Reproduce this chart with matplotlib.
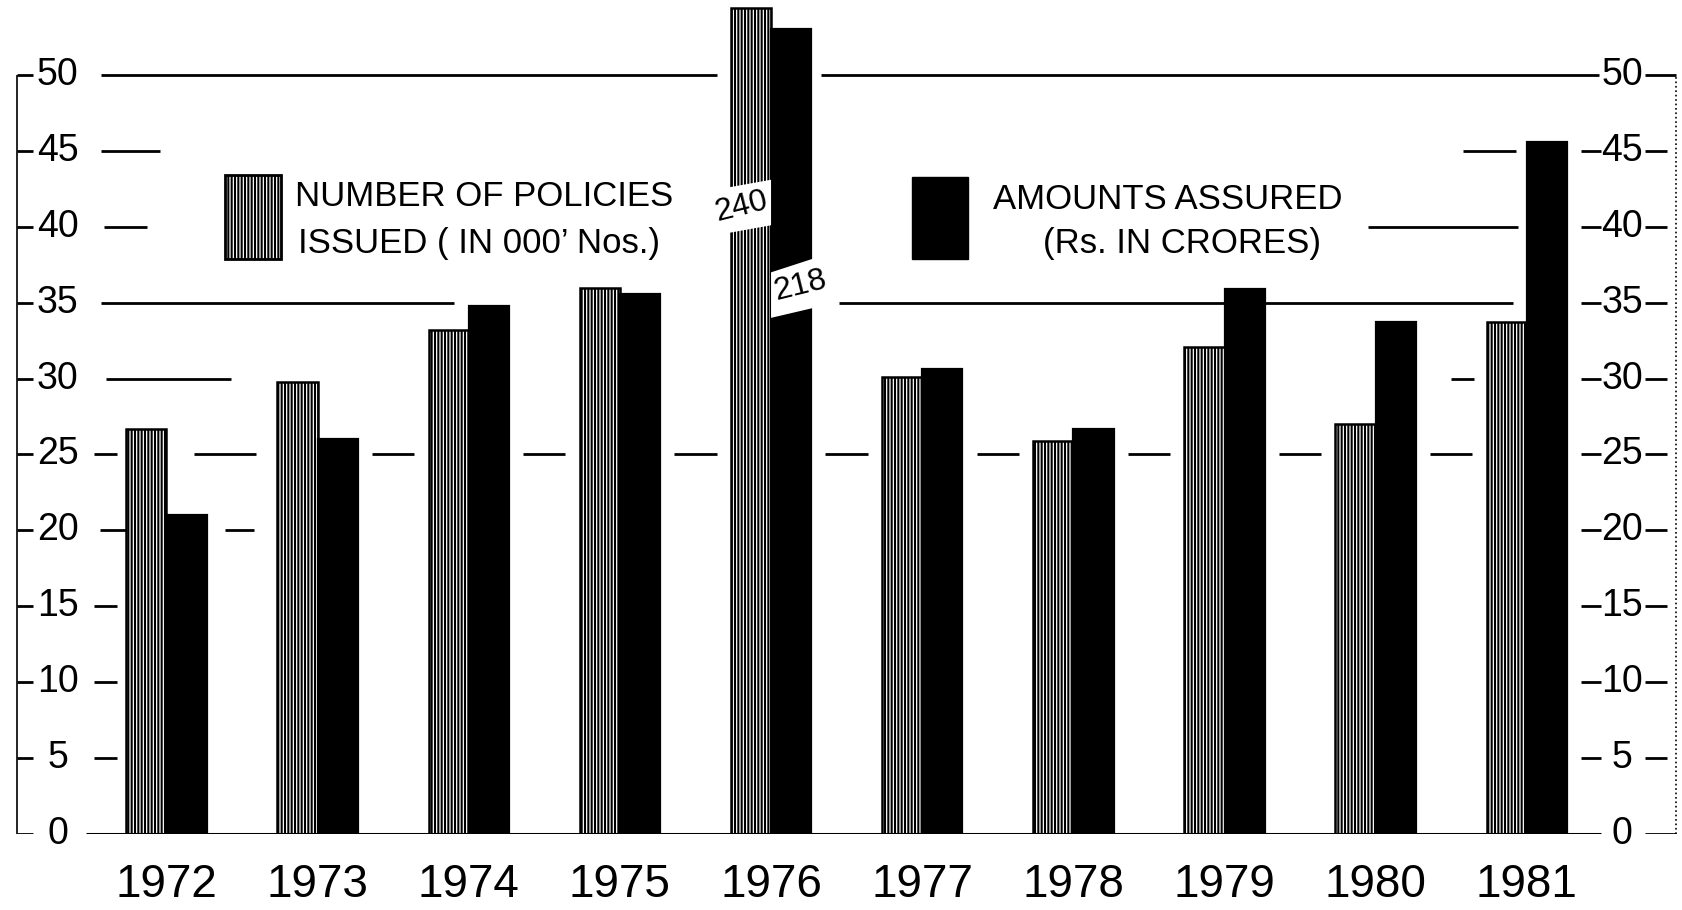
"""Policies issued and amounts assured, 1972-1981 (hand drawn style bar chart)"""

import matplotlib.pyplot as plt
from matplotlib.patches import Polygon, Rectangle

plt.rcParams["font.family"] = ["Liberation Sans", "DejaVu Sans"]
plt.rcParams["hatch.linewidth"] = 1.5

years = ["1972", "1973", "1974", "1975", "1976", "1977", "1978", "1979", "1980", "1981"]
policies = [26.7, 29.8, 33.2, 36.0, 240, 30.1, 25.9, 32.1, 27.0, 33.7]  # in 000' nos.
amounts = [21.0, 26.0, 34.8, 35.6, 218, 30.6, 26.7, 35.9, 33.7, 45.6]  # Rs. in crores
y_ticks = [0, 5, 10, 15, 20, 25, 30, 35, 40, 45, 50]

# bars that run off the scale are drawn broken and cut at these heights
policies_cap = 54.4
amounts_cap = 53.0

W = 0.266  # width of one bar (one year slot = 1.0)

fig = plt.figure(figsize=(16.83, 9.10), dpi=100)
ax = fig.add_axes([16 / 1683, 76 / 910, 1662 / 1683, 834 / 910])
ax.set_xlim(-0.995, 10.0)
ax.set_ylim(0, 54.94)
for s in ax.spines.values():
    s.set_visible(False)
ax.set_yticks([])

x = list(range(len(years)))
pol_h = [min(v, policies_cap) for v in policies]
amt_h = [min(v, amounts_cap) for v in amounts]

ax.bar([i - W / 2 for i in x], pol_h, W, color="white", edgecolor="black",
       hatch="|||||", linewidth=1.8, zorder=3)
ax.bar([i + W / 2 for i in x], amt_h, W, color="black", edgecolor="black",
       linewidth=1.6, zorder=3)

# breaks on the off-scale bars, with the real value written in
for i, v in enumerate(policies):
    if v > policies_cap:
        band = Polygon([(i - W - 0.012, 39.6), (i, 40.1), (i, 43.1), (i - W - 0.012, 42.6)],
                       closed=True, facecolor="white", edgecolor="none", zorder=4)
        ax.add_patch(band)
        ax.text(i - W / 2 - 0.06, 41.3, str(v), fontsize=23, rotation=14,
                ha="center", va="center", zorder=5)
for i, v in enumerate(amounts):
    if v > amounts_cap:
        band = Polygon([(i, 34.0), (i + W + 0.012, 34.65), (i + W + 0.012, 37.9), (i, 37.0)],
                       closed=True, facecolor="white", edgecolor="none", zorder=4)
        ax.add_patch(band)
        ax.text(i + W / 2 + 0.06, 36.1, str(v), fontsize=23, rotation=14,
                ha="center", va="center", zorder=5)

# hand ruled guide lines between the bars
guides = [
    (50, -0.43, 3.64), (50, 4.33, 9.48),
    (45, -0.43, -0.04), (45, 8.58, 8.93),
    (40, -0.41, -0.13), (40, 7.95, 8.94),
    (35, -0.43, 1.90), (35, 4.45, 8.91),
    (30, -0.40, 0.43), (30, 8.50, 8.65),
    (25, 0.18, 0.59),
    (20, -0.44, -0.27), (20, 0.39, 0.58),
]
guides += [(25, i + 0.5 - 0.14, i + 0.5 + 0.14) for i in range(1, 9)]
for y, x0, x1 in guides:
    ax.hlines(y, x0, x1, color="black", linewidth=2, zorder=1)

# left scale
ax.vlines(-0.99, 0, 50, color="black", linewidth=1.2)
ax.hlines(y_ticks, -0.99, -0.88, color="black", linewidth=2)
for v in y_ticks:
    ax.text(-0.72, v, str(v), fontsize=27, ha="center", va="center")
for v in [5, 10, 15, 25]:
    ax.hlines(v, -0.48, -0.33, color="black", linewidth=2)

# right scale
ax.vlines(9.99, 0, 50, color="black", linewidth=1.2, linestyles=":")
for v in y_ticks:
    ax.text(9.63, v, str(v), fontsize=27, ha="center", va="center")
    if 0 < v < 50:
        ax.hlines(v, 9.36, 9.49, color="black", linewidth=2)
    ax.hlines(v, 9.78, 9.93 if 0 < v < 50 else 9.99, color="black", linewidth=2)

# base line
ax.hlines(0, -0.53, 9.49, color="black", linewidth=2.2, zorder=4)

ax.set_xticks(x, years)
ax.tick_params(axis="x", length=0, pad=21, labelsize=33)

# legend drawn by hand, as in the original
ax.add_patch(Rectangle((0.388, 37.9), 0.37, 5.5, facecolor="white", edgecolor="black",
                       hatch="|||||", linewidth=2))
ax.add_patch(Rectangle((4.93, 37.9), 0.37, 5.4, facecolor="black", edgecolor="black"))
ax.text(0.85, 42.0, "NUMBER OF POLICIES", fontsize=25, ha="left", va="center")
ax.text(0.87, 38.9, "ISSUED ( IN 000\u2019 Nos.)", fontsize=25, ha="left", va="center")
ax.text(5.47, 41.8, "AMOUNTS ASSURED", fontsize=25, ha="left", va="center")
ax.text(5.80, 38.9, "(Rs. IN CRORES)", fontsize=25, ha="left", va="center")

fig.savefig("out.png", dpi=100)
